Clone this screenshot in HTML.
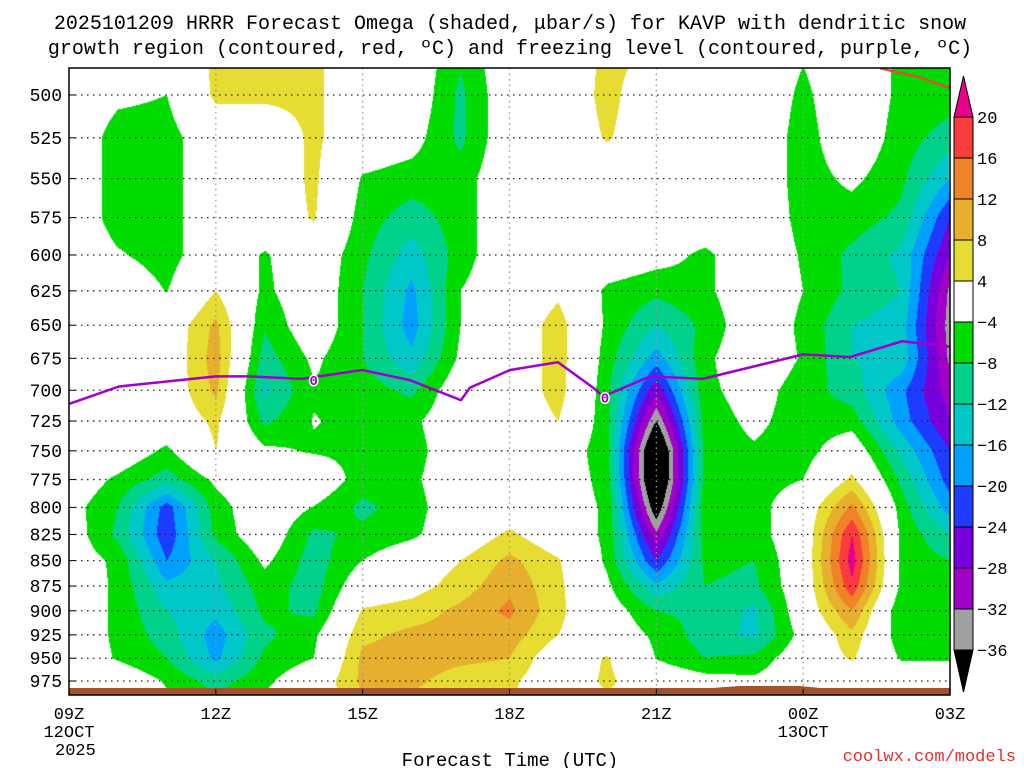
<!DOCTYPE html>
<html><head><meta charset="utf-8"><title>HRRR Omega KAVP</title>
<style>
html,body{margin:0;padding:0;background:#fff;}
#wrap{position:relative;width:1024px;height:768px;overflow:hidden;background:#fff;font-family:"Liberation Mono",monospace;}
#field{position:absolute;left:69px;top:68px;}
#ov{position:absolute;left:0;top:0;}
</style></head>
<body>
<div id="wrap">
<canvas id="field" width="881" height="627"></canvas>
<svg id="ov" width="1024" height="768" xmlns="http://www.w3.org/2000/svg" font-family="Liberation Mono, monospace">
<text x="510" y="29" text-anchor="middle" font-size="20" fill="#000">2025101209 HRRR Forecast Omega (shaded, μbar/s) for KAVP with dendritic snow</text>
<text x="510" y="54" text-anchor="middle" font-size="20" fill="#000">growth region (contoured, red, ºC) and freezing level (contoured, purple, ºC)</text>
<g id="grid"></g>
<g id="ground"></g>
<g id="lines"></g>
<rect x="69" y="68" width="881" height="627" fill="none" stroke="#000" stroke-width="1.5"/>
<g id="yaxis"></g>
<g id="xaxis"></g>
<text x="510" y="766" text-anchor="middle" font-size="19" fill="#000">Forecast Time (UTC)</text>
<text x="1016" y="761" text-anchor="end" font-size="17" fill="#e03030">coolwx.com/models</text>
<g id="cbar"></g>
</svg>
</div>
<script>
const hours=[0,1,2,3,4,5,6,7,8,9,10,11,12,13,14,15,16,17,18];
const levels=[475,500,525,550,575,600,625,650,675,700,725,750,775,800,825,850,875,900,925,950,975,1000];
const omega=[
[0,0,0,5,5,5,0,0,-7,0,0,5,4,0,0,-3.5,0,-5,-6],
[0,-3,-4,5,5,5,0,0,-9,0,0,5.5,0,0,0,-5,0,-5,-6],
[0,-6,-6,0,0,5,0,-2,-9,0,0,4.5,0,0,0,-6,0,-6,-10],
[0,-6,-6,0,0,5,-4.5,-6,-6,0,0,0,0,0,0,-6,-3,-7,-16],
[0,-6,-6,0,0,4.5,-6,-10,-6,0,0,0,0,0,0,-5.5,-6,-9,-24],
[0,-3.5,-6,0,-4.5,0,-7,-14,-6,0,0,0,-2,-5,0,-4.5,-9,-13,-28],
[0,0,-4.2,4,-5,0,-8,-17,-4,0,3,-5,-7,-5,0,-4,-9,-12,-33],
[0,0,0,9,-7.5,0,-8,-18,-4,0,6,-5,-12,-7,0,-5,-12,-14,-34],
[0,0,0,10,-10,-3,-8,-15,-3,0,6,-6,-18,-5,0,-4.5,-12,-13,-33],
[0,0,0,9,-13,-4.5,-6,-9,0,0,6,-7,-27,-5,-2,-6,-10,-19,-30],
[0,0,0,5,-9,-3.8,-5,-5,0,0,4,-7,-36,-6,-3,-6,-6,-18,-28],
[0,0,-5,4,-3,-4.5,-5,-6,0,0,0,-7,-46,-6,-4.5,-6,0,-13,-24],
[0,-5,-10,-3,0,0,-6,-5,0,0,0,-6,-46,-6,-6,-4,5,-9,-22],
[-2,-8,-22,-6,0,-4.2,-9,-6,0,0,0,-5,-40,-5,-6,0,13,-6,-18],
[-1,-9,-23,-7,0,-9,-7,-5,0,5,0,-5,-31,-6,-6,0,20,-5,-12],
[-1,-5,-20,-12,-3,-10,-4,0,4,9,4.5,-5,-24,-7,-8,0,22,-5,-8],
[0,-5,-15,-13,-6,-10,0,2,6,11,5,-3,-15,-8,-9,0,19,-5,-5],
[0,-5,-12,-15,-7,-9,4.5,6,9,13,5,-1,-8,-9,-13,0,12,-8,-5],
[0,-5,-10,-18,-9,-5,7,9,9.5,10,4,0,-5,-10,-13,-2,7,-7,-5],
[0,-4.5,-8,-17,-7,-4,9,10,9,8,0,4.5,-4.2,-8,-7,0,4.5,-4.5,-4.5],
[0,0,-4.5,-10,-5,0,9,9,6,5,0,5,0,-2,-3,0,0,0,0],
[0,0,-3,-6,-3,0,7,7,5,4.5,0,3,0,0,0,0,0,0,0]
];
const fzHours=[0,1.02,3,3.68,4.76,5.99,6.97,8.01,8.19,9.01,9.99,10.71,10.91,11.87,12.95,15,15.96,17.02,18];
const fzP=[711,697,689,689,691,684,692,708,698,684,678,698,705,689,691,672,674,662,666];
const fzLabelHours=[5,10.95];
const fzLabelP=[692,706];
const dgzHours=[16.57,17.39,18];
const dgzP=[485,490,496];
const pTicks=[500,525,550,575,600,625,650,675,700,725,750,775,800,825,850,875,900,925,950,975];
const xTickHours=[0,3,6,9,12,15,18];
const xTickLabels=['09Z','12Z','15Z','18Z','21Z','00Z','03Z'];
const xDateLabels=['12OCT','','','','','13OCT',''];
const xYearLabels=['2025','','','','','',''];
const cbLevels=[20,16,12,8,4,-4,-8,-12,-16,-20,-24,-28,-32,-36];
const cbLabels=['20','16','12','8','4','\u22124','\u22128','\u221212','\u221216','\u221220','\u221224','\u221228','\u221232','\u221236'];
const cbColors=['#e8008a','#fa3c3c','#f08228','#e6af2d','#e6dc32','#ffffff','#00dc00','#00d28c','#00c8c8','#00a0ff','#1e3cff','#7800dc','#a000c8','#a0a0a0','#000000'];

const X0=69,X1=950,Y0=68,Y1=695;
function xs(h){return X0+(X1-X0)*(h-hours[0])/(hours[hours.length-1]-hours[0]);}
function ys(p){return 95+877.5*Math.log(p/500);}
function colorIdx(v){for(let i=0;i<cbLevels.length;i++){if(v>=cbLevels[i])return i;}return cbLevels.length;}
function hex(c){return [parseInt(c.substr(1,2),16),parseInt(c.substr(3,2),16),parseInt(c.substr(5,2),16)];}
const rgb=cbColors.map(hex);
const NS='http://www.w3.org/2000/svg';
function mk(tag,attrs,parent){const e=document.createElementNS(NS,tag);for(const k in attrs)e.setAttribute(k,attrs[k]);parent.appendChild(e);return e;}

(function(){
const cv=document.getElementById('field');const ctx=cv.getContext('2d');
const W=cv.width,H=cv.height;const img=ctx.createImageData(W,H);
const hspan=hours[hours.length-1]-hours[0];
for(let py=0;py<H;py++){
 const p=500*Math.exp((py+Y0+0.5-95)/877.5);
 let r=(p-levels[0])/(levels[1]-levels[0]);
 r=Math.max(0,Math.min(levels.length-1.0001,r));
 const r0=Math.floor(r),fr=r-r0;
 for(let px=0;px<W;px++){
  let c=(px+0.5)/W*hspan; c=Math.max(0,Math.min(hours.length-1.0001,c));
  const c0=Math.floor(c),fc=c-c0;
  const v=(omega[r0][c0]*(1-fc)+omega[r0][c0+1]*fc)*(1-fr)+(omega[r0+1][c0]*(1-fc)+omega[r0+1][c0+1]*fc)*fr;
  const col=rgb[colorIdx(v)];const k=(py*W+px)*4;
  img.data[k]=col[0];img.data[k+1]=col[1];img.data[k+2]=col[2];img.data[k+3]=255;
 }
}
ctx.putImageData(img,0,0);
})();

const grid=document.getElementById('grid');
pTicks.forEach(p=>{
 const l=mk('line',{x1:X0,x2:X1,y1:ys(p),y2:ys(p),stroke:'#222','stroke-width':1.3,'stroke-dasharray':'1.5,4.5'},grid);
 
 
});
xTickHours.forEach(h=>{
 if(h===hours[0]||h===hours[hours.length-1])return;
 const l=mk('line',{x1:xs(h),x2:xs(h),y1:Y0,y2:Y1,stroke:'#999','stroke-width':1.3,'stroke-dasharray':'1.5,4'},grid);
 
 
});

const gnd=document.getElementById('ground');
const gr=mk('rect',{x:X0,y:688,width:X1-X0,height:7,fill:'#a0522d'},gnd);


const gb=mk('path',{d:'M712 688 L740 686 L800 686 L820 688 Z',fill:'#a0522d'},gnd);



const lines=document.getElementById('lines');
const fzPts=fzHours.map((h,i)=>xs(h).toFixed(1)+','+ys(fzP[i]).toFixed(1)).join(' ');
const fz=mk('polyline',{points:fzPts,fill:'none',stroke:'#a000c8','stroke-width':2.5,'stroke-linejoin':'round'},lines);


fzLabelHours.forEach((h,i)=>{
 const t=mk('text',{x:xs(h),y:ys(fzLabelP[i])+5,'text-anchor':'middle','font-size':14,'font-weight':'bold',fill:'#a000c8',stroke:'#fff','stroke-width':3,'paint-order':'stroke'},lines);
 t.textContent='0';
 
 
});
const dgzPts=dgzHours.map((h,i)=>xs(h).toFixed(1)+','+ys(dgzP[i]).toFixed(1)).join(' ');
const dg=mk('polyline',{points:dgzPts,fill:'none',stroke:'#fa3c3c','stroke-width':2.2},lines);



const ya=document.getElementById('yaxis');
pTicks.forEach(p=>{
 const y=ys(p);
 const tk=mk('line',{x1:X0,x2:X0+6,y1:y,y2:y,stroke:'#000','stroke-width':1},ya);
 
 
 const t=mk('text',{x:62,y:y+6,'text-anchor':'end','font-size':18,fill:'#000'},ya);
 t.textContent=String(p);
 
 
});

const xa=document.getElementById('xaxis');
xTickHours.forEach((h,i)=>{
 const x=xs(h);
 const tk=mk('line',{x1:x,x2:x,y1:Y1,y2:Y1-6,stroke:'#000','stroke-width':1},xa);
 
 
 const t=mk('text',{x:x,y:719,'text-anchor':'middle','font-size':17,fill:'#000'},xa);
 t.textContent=xTickLabels[i];
 
 
 if(xDateLabels[i]){
  const d=mk('text',{x:x,y:737,'text-anchor':'middle','font-size':17,fill:'#000'},xa);
  d.textContent=xDateLabels[i];
  
  
 }
 if(xYearLabels[i]){
  const d=mk('text',{x:x-14,y:755,'text-anchor':'start','font-size':17,fill:'#000'},xa);
  d.textContent=xYearLabels[i];
  
  
 }
});

const cb=document.getElementById('cbar');
const CX=954,CW=19,CT=117,CS=41;
const cbTop=mk('path',{d:`M${CX} ${CT} L${CX+CW/2} 76 L${CX+CW} ${CT} Z`,fill:cbColors[0],stroke:'#000','stroke-width':1},cb);


for(let i=1;i<cbColors.length-1;i++){
 const r=mk('rect',{x:CX,y:CT+(i-1)*CS,width:CW,height:CS,fill:cbColors[i],stroke:'#000','stroke-width':1},cb);
 
 
}
const botY=CT+(cbColors.length-2)*CS;
const cbBot=mk('path',{d:`M${CX} ${botY} L${CX+CW/2} ${botY+42} L${CX+CW} ${botY} Z`,fill:cbColors[cbColors.length-1],stroke:'#000','stroke-width':1},cb);


cbLabels.forEach((s,i)=>{
 const t=mk('text',{x:977,y:CT+i*CS+6,'font-size':17,fill:'#000'},cb);
 t.textContent=s;
 
 
});
</script>
</body></html>
